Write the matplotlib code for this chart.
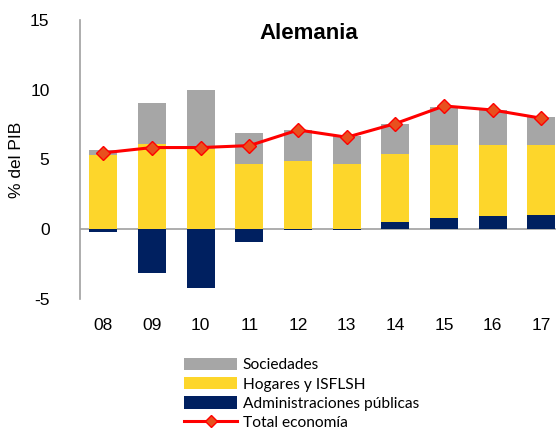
import numpy as np
import matplotlib.pyplot as plt
from matplotlib.patches import Patch
from matplotlib.lines import Line2D

plt.rcParams["font.family"] = ["Liberation Sans", "DejaVu Sans"]
plt.rcParams["axes.unicode_minus"] = False

# Data (% del PIB)
years = ["08", "09", "10", "11", "12", "13", "14", "15", "16", "17"]
sociedades = [0.36, 2.89, 4.22, 2.25, 2.2, 2.0, 2.1, 2.72, 2.48, 1.98]
hogares = [5.3, 6.13, 5.78, 4.65, 4.9, 4.65, 4.87, 5.25, 5.13, 5.01]
admin_pub = [-0.2, -3.17, -4.18, -0.95, -0.05, -0.05, 0.55, 0.79, 0.91, 1.03]
total = [5.47, 5.85, 5.85, 5.99, 7.11, 6.59, 7.57, 8.83, 8.54, 7.95]

c_soc = "#A6A6A6"
c_hog = "#FDD62B"
c_adm = "#002060"
c_tot = "#FF0000"

fig = plt.figure(figsize=(5.6, 4.32), dpi=100)
ax = fig.add_axes([0.143, 0.308, 0.85, 0.646])

x = np.arange(len(years))
soc = np.array(sociedades)
hog = np.array(hogares)
adm = np.array(admin_pub)

# stacking: admin below/above zero, households on top of positive admin
hog_base = np.where(adm > 0, adm, 0)
soc_base = hog_base + hog
w = 0.575
ax.bar(x, adm, w, color=c_adm, zorder=2)
ax.bar(x, hog, w, bottom=hog_base, color=c_hog, zorder=2)
ax.bar(x, soc, w, bottom=soc_base, color=c_soc, zorder=2)
ax.plot(x, total, color=c_tot, lw=2.2, marker="D", markersize=7,
        markerfacecolor="#E8501E", markeredgecolor=c_tot, markeredgewidth=1, zorder=3)

ax.axhline(0, color="#A0A0A0", lw=1.2, zorder=1)
ax.set_xlim(-0.48, 9.3)
ax.set_ylim(-5, 15)
ax.set_yticks([-5, 0, 5, 10, 15])
ax.set_xticks(x)
ax.set_xticklabels(years)
ax.tick_params(axis="both", length=0, labelsize=12.5)
ax.tick_params(axis="x", pad=14)
ax.tick_params(axis="y", pad=22)
for side in ["top", "right", "bottom"]:
    ax.spines[side].set_visible(False)
ax.spines["left"].set_color("#A0A0A0")
ax.spines["left"].set_linewidth(1.2)

ax.set_ylabel("% del PIB", fontsize=12.5, labelpad=4)
ax.text(0.48, 0.99, "Alemania", transform=ax.transAxes, ha="center", va="top",
        fontsize=16, fontweight="bold")

handles = [
    Patch(facecolor=c_soc, label="Sociedades"),
    Patch(facecolor=c_hog, label="Hogares y ISFLSH"),
    Patch(facecolor=c_adm, label="Administraciones públicas"),
    Line2D([0], [0], color=c_tot, lw=2.2, marker="D", markersize=6,
           markerfacecolor="#E8501E", markeredgecolor=c_tot, label="Total economía"),
]
fig.legend(handles=handles, loc="upper left", bbox_to_anchor=(0.315, 0.19),
           frameon=False, prop={"family": "Lato", "size": 11.2},
           handlelength=3.4, handleheight=0.85, labelspacing=0.3,
           handletextpad=0.35, borderpad=0)

fig.savefig("out.png", dpi=100)
